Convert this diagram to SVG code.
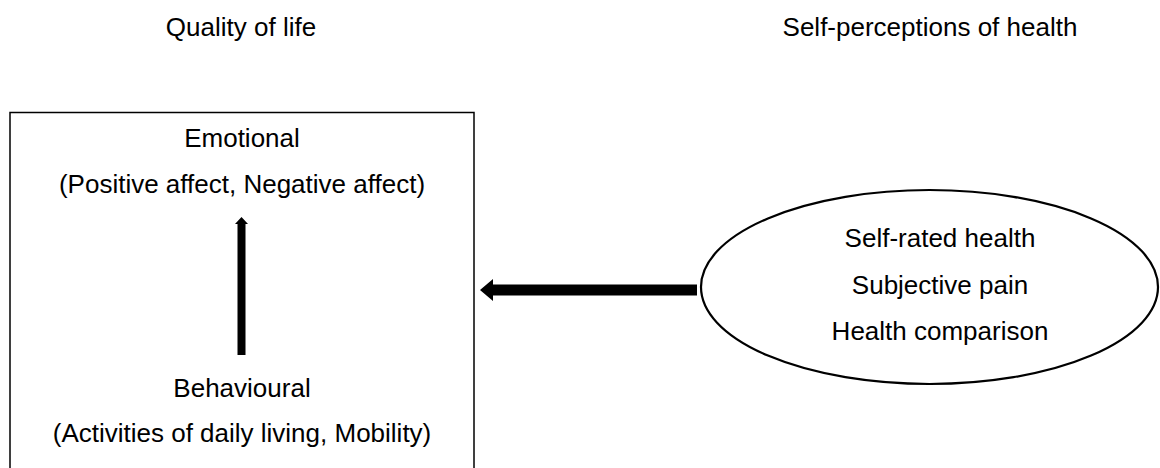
<svg xmlns="http://www.w3.org/2000/svg" width="1160" height="468" viewBox="0 0 1160 468">
  <style>
    text { font-family: "Liberation Sans", Arial, sans-serif; font-size: 26px; fill: #000; text-anchor: middle; }
    .box { fill: #fff; stroke: #000; stroke-width: 1.5; }
    .ell { fill: #fff; stroke: #000; stroke-width: 2.2; }
    .arrow { fill: #000; stroke: none; }
  </style>
  <rect width="1160" height="468" fill="#fff"/>
  <g id="title-qol">
    <text x="241" y="36">Quality of life</text>
  </g>
  <g id="title-sph">
    <text x="930" y="36">Self-perceptions of health</text>
  </g>
  <g id="qol-box">
    <rect class="box" x="10" y="112.5" width="464" height="370"/>
  </g>
  <g id="emotional">
    <text x="242" y="147">Emotional</text>
    <text x="242" y="193">(Positive affect, Negative affect)</text>
  </g>
  <g id="behavioural">
    <text x="242" y="397">Behavioural</text>
    <text x="242" y="442">(Activities of daily living, Mobility)</text>
  </g>
  <g id="self-perceptions">
    <ellipse class="ell" cx="929.5" cy="287" rx="228.5" ry="97"/>
    <text x="940" y="247">Self-rated health</text>
    <text x="940" y="293.5">Subjective pain</text>
    <text x="940" y="340">Health comparison</text>
  </g>
  <g id="connectors">
    <polygon class="arrow" points="241.5,217 248,224 245.5,224 245.5,355 237.5,355 237.5,224 235,224"/>
    <polygon class="arrow" points="480,290 493,279 493,284.5 697,284.5 697,295.5 493,295.5 493,301"/>
  </g>
</svg>
